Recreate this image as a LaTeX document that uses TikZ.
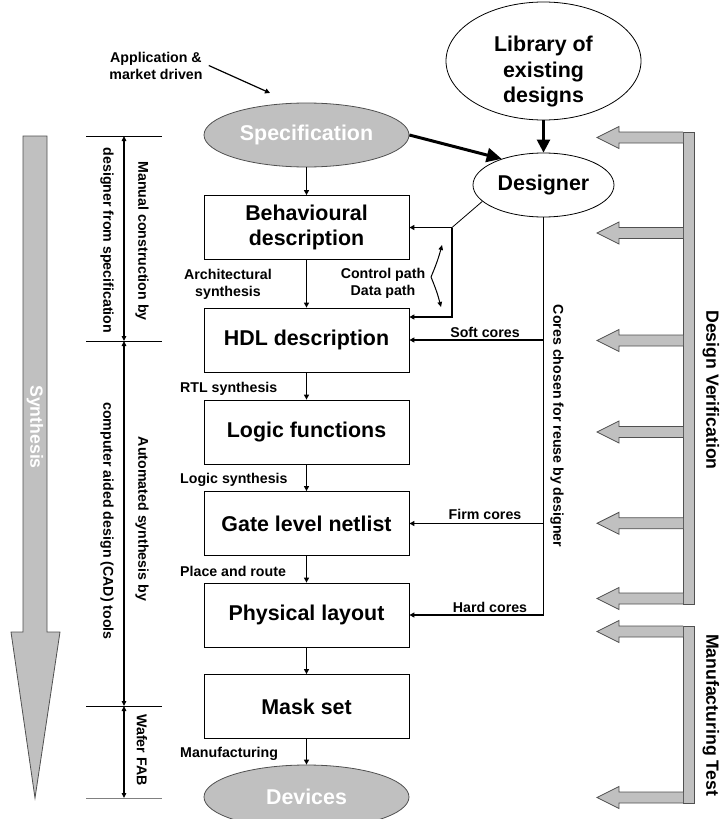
\documentclass[tikz,border=0pt]{standalone}
\usepackage{fontspec}
\setmainfont{Liberation Sans}
\usetikzlibrary{shapes.geometric,arrows.meta}
\definecolor{shade}{RGB}{192,192,192}
\definecolor{edge}{RGB}{80,80,80}
\newcommand\fbig{\fontsize{21.4bp}{25.5bp}\selectfont\bfseries}
\newcommand\fmid{\fontsize{17.7bp}{21bp}\selectfont\bfseries}
\newcommand\fsml{\fontsize{14.2bp}{17bp}\selectfont\bfseries}

\begin{document}
\begin{tikzpicture}[x=1bp,y=-1bp,
  stagebox/.style={draw, line width=0.8bp, minimum width=205bp, minimum height=64bp,
                   inner sep=0pt, align=center, font=\fbig},
  oval/.style={ellipse, draw, line width=0.8bp, inner sep=0pt},
  greyoval/.style={oval, fill=shade, draw=edge, text=white, font=\fbig},
  lbl/.style={font=\fsml, align=center, inner sep=0pt},
  sidelbl/.style={font=\fsml, rotate=-90, inner sep=0pt},
  conn/.style={line width=1.2bp, -{Triangle[length=5bp,width=5bp]}},
  thinline/.style={line width=0.8bp},
  bigconn/.style={line width=3bp, -{Triangle[length=15bp,width=14bp]}},
  libconn/.style={line width=2.5bp, -{Triangle[length=13bp,width=13bp]}},
  dim/.style={line width=1.2bp,
              {Triangle[length=5bp,width=4.5bp]}-{Triangle[length=5bp,width=4.5bp]}},
  tick/.style={line width=0.8bp},
  blockarrow/.style={fill=shade, draw=edge, line width=0.8bp, line join=miter},
]
\useasboundingbox (0,0) rectangle (721,819);

% ---------- top: inputs ----------
\node[lbl] (app) at (156,65.5) {Application \&\\market driven};
\coordinate (append) at (270,93);
\draw[conn] ([xshift=6bp]app.east) -- (append);

\node[greyoval, minimum width=205bp, minimum height=64bp] (spec) at (306.5,135) {Specification};
\node[oval, minimum width=195bp, minimum height=118bp] (lib) at (543.5,61) {};
\node[font=\fbig, align=center, inner sep=0pt] (libtxt) at (543.5,72) {Library of\\existing\\designs};
\node[oval, minimum width=141bp, minimum height=64bp, font=\fbig] (desg) at (543.5,185) {Designer};

\draw[bigconn] (spec.east) -- (desg.148);
\draw[libconn] (lib) -- (desg);

% ---------- design flow ----------
\node[stagebox] (behav) at (306.5,227.5) {Behavioural\\description};
\node[stagebox] (hdl)   at (306.5,340)   {HDL description};
\node[stagebox] (logic) at (306.5,432)   {Logic functions};
\node[stagebox] (gate)  at (306.5,523.5) {Gate level netlist};
\node[stagebox] (phys)  at (306.5,615)   {Physical layout};
\node[stagebox] (mask)  at (306.5,706.5) {Mask set};
\node[greyoval, minimum width=205bp, minimum height=64bp] (dev) at (306.5,797) {Devices};

\draw[conn] (spec) -- (behav);
\draw[conn] (behav) -- (hdl);
\draw[conn] (hdl) -- (logic);
\draw[conn] (logic) -- (gate);
\draw[conn] (gate) -- (phys);
\draw[conn] (phys) -- (mask);
\draw[conn] (mask) -- (dev);

\node[lbl] (arch) at (228,284.5) {Architectural\\synthesis};
\node[lbl, anchor=west] (rtl)  at (180,389) {RTL synthesis};
\node[lbl, anchor=west] (lsyn) at (180,480) {Logic synthesis};
\node[lbl, anchor=west] (pr)   at (180,571) {Place and route};
\node[lbl, anchor=west] (mfg)  at (180,754) {Manufacturing};

% ---------- designer feedback into the flow ----------
\coordinate (fb)  at (452,227.5);
\coordinate (fb2) at (452,317);
\draw[thinline] (desg.195) -- (fb);
\draw[conn] (fb) -- (behav.east);
\draw[conn] (fb) -- (fb2) -- (hdl.east |- fb2);

\node[lbl] (cdp) at (383,283.5) {Control path\\Data path};
\coordinate (cpv) at (431,277);
\coordinate (cpu) at (442,245);
\coordinate (cpd) at (441,307);
\draw[line width=1bp, -{Triangle[length=5bp,width=4.5bp]}] (cpv) to[bend right=4] (cpu);
\draw[line width=1bp, -{Triangle[length=5bp,width=4.5bp]}] (cpv) to[bend left=4] (cpd);

% ---------- reused cores ----------
\draw[thinline] (desg.south) -- (desg.south |- phys.east);
\draw[conn] (desg.south |- hdl.east) -- (hdl.east);
\draw[conn] (desg.south |- gate.east) -- (gate.east);
\draw[conn] (desg.south |- phys.east) -- (phys.east);
\node[lbl] (soft) at (485,332) {Soft cores};
\node[lbl] (firm) at (485,514) {Firm cores};
\node[lbl] (hard) at (490,607) {Hard cores};
\node[sidelbl] (reuse) at (557,426) {Cores chosen for reuse by designer};

% ---------- left: synthesis direction ----------
\draw[fill=shade, draw=edge, line width=0.8bp]
  (23,136) -- (47,136) -- (47,632) -- (60,632) -- (35,798) -- (11,632) -- (23,632) -- cycle;
\node[font=\fmid, text=white, rotate=-90] (synth) at (35,427) {Synthesis};

\coordinate (t1) at (124,136);
\coordinate (t2) at (124,341);
\coordinate (t3) at (124,706);
\coordinate (t4) at (124,798);
\draw[tick] ([xshift=-38bp]t1) -- ([xshift=38bp]t1);
\draw[tick] ([xshift=-38bp]t2) -- ([xshift=38bp]t2);
\draw[tick] ([xshift=-38bp]t3) -- ([xshift=38bp]t3);
\draw[tick, draw=gray] ([xshift=-38bp]t4) -- ([xshift=38bp]t4);
\draw[dim] (t1) -- (t2);
\draw[dim] (t2) -- (t3);
\draw[dim] (t3) -- (t4);

\node[sidelbl] (man1) at (142,241)   {Manual construction by};
\node[sidelbl] (man2) at (107,240.5) {designer from specification};
\node[sidelbl] (aut1) at (142,519)   {Automated synthesis by};
\node[sidelbl] (aut2) at (107,521)   {computer aided design (CAD) tools};
\node[sidelbl] (fab)  at (142,750)   {Wafer FAB};

% ---------- right: verification and test feedback ----------
\draw[blockarrow] (683,132) rectangle (694,604);
\foreach \c in {137.5,233,340.5,432,523.3,598.5} {
  \draw[blockarrow] (683,{\c-5.5}) -- (619,{\c-5.5}) -- (619,{\c-11}) -- (597,\c)
    -- (619,{\c+11}) -- (619,{\c+5.5}) -- (683,{\c+5.5});
}
\draw[blockarrow] (683,626) rectangle (694,803);
\foreach \c in {631.5,797.5} {
  \draw[blockarrow] (683,{\c-5.5}) -- (619,{\c-5.5}) -- (619,{\c-11}) -- (597,\c)
    -- (619,{\c+11}) -- (619,{\c+5.5}) -- (683,{\c+5.5});
}
\node[font=\fmid, rotate=-90] (dv) at (711,390) {Design Verification};
\node[font=\fmid, rotate=-90] (mt) at (711,715) {Manufacturing Test};
\end{tikzpicture}
\end{document}
